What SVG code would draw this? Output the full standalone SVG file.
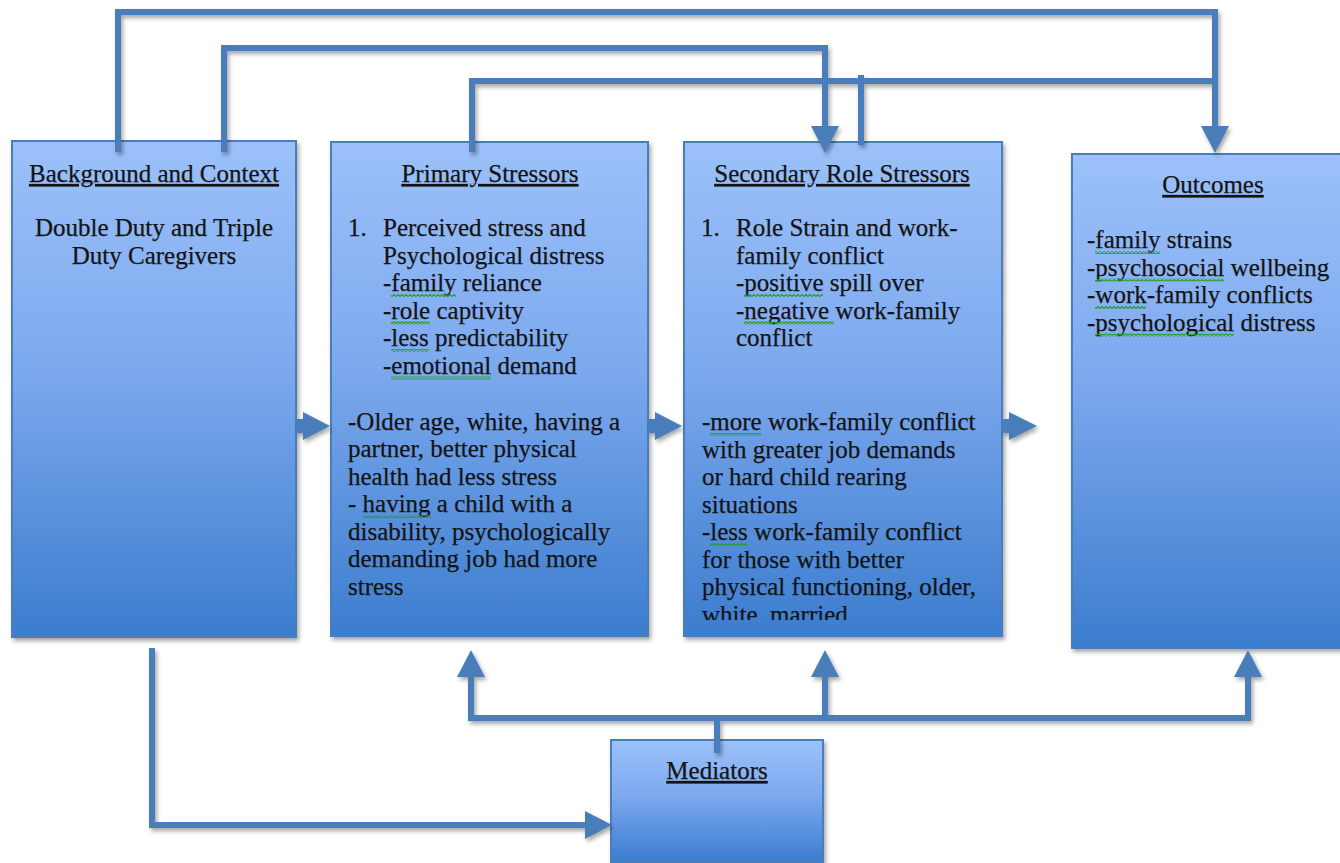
<svg xmlns="http://www.w3.org/2000/svg" width="1340" height="863" viewBox="0 0 1340 863">
<style>
.box{stroke:#4A7EBB;stroke-width:2;fill:url(#bg);filter:url(#sh)}
.t{font-family:"Liberation Serif","Times New Roman",serif;font-size:25px;fill:#141414;stroke:#141414;stroke-width:0.25}
.h{text-decoration:underline}
.c{text-anchor:middle}
.ln{fill:none;stroke:#4A7EBB;stroke-width:6;stroke-linejoin:miter;stroke-linecap:butt}
.ar{marker-end:url(#ah)}
.blk{fill:#4A7EBB}
.sq{fill:url(#wv)}
</style>
<defs>
<linearGradient id="bg" x1="0" y1="0" x2="0" y2="1">
<stop offset="0" stop-color="#9CC1FA"/>
<stop offset="0.45" stop-color="#7DA9EE"/>
<stop offset="1" stop-color="#3C7DCE"/>
</linearGradient>
<filter id="sh" x="-10%" y="-10%" width="130%" height="130%">
<feDropShadow dx="2" dy="3" stdDeviation="2" flood-color="#000" flood-opacity="0.35"/>
</filter>
<marker id="ah" viewBox="0 0 28 28" markerWidth="28" markerHeight="28" markerUnits="userSpaceOnUse" refX="1" refY="14" orient="auto">
<path d="M0 0 L27 14 L0 28 Z" fill="#4A7EBB"/>
</marker>
<pattern id="wv" width="4" height="3" patternUnits="userSpaceOnUse">
<path d="M0 2.5 L2 0.5 L4 2.5" fill="none" stroke="#22A022" stroke-width="1.2"/>
</pattern>
<clipPath id="clipSec"><rect x="684" y="141" width="318" height="479"/></clipPath>
</defs>

<g id="background">
<rect class="box" x="12" y="141" width="284" height="496"/>
<text class="t c h" x="154" y="182">Background and Context</text>
<text class="t c" x="154" y="236">Double Duty and Triple</text>
<text class="t c" x="154" y="264">Duty Caregivers</text>
</g>

<g id="primary">
<rect class="box" x="331" y="142" width="317" height="494"/>
<text class="t c h" x="490" y="182">Primary Stressors</text>
<text class="t" x="348" y="236">1.</text>
<text class="t" x="383" y="236">Perceived stress and</text>
<text class="t" x="383" y="263.5">Psychological distress</text>
<text class="t" x="383" y="291">-family reliance</text>
<text class="t" x="383" y="318.5">-role captivity</text>
<text class="t" x="383" y="346">-less predictability</text>
<text class="t" x="383" y="373.5">-emotional demand</text>
<text class="t" x="348" y="429.5">-Older age, white, having a</text>
<text class="t" x="348" y="457">partner, better physical</text>
<text class="t" x="348" y="484.5">health had less stress</text>
<text class="t" x="348" y="512">- having a child with a</text>
<text class="t" x="348" y="539.5">disability, psychologically</text>
<text class="t" x="348" y="567">demanding job had more</text>
<text class="t" x="348" y="594.5">stress</text>
<rect class="sq" x="391" y="294" width="65" height="3"/>
<rect class="sq" x="391" y="321.5" width="39" height="3"/>
<rect class="sq" x="391" y="349" width="38" height="3"/>
<rect class="sq" x="391" y="376.5" width="100" height="3"/>
<rect class="sq" x="363" y="515" width="68" height="3"/>
</g>

<g id="secondary">
<rect class="box" x="684" y="142" width="318" height="494"/>
<text class="t c h" x="842" y="182">Secondary Role Stressors</text>
<text class="t" x="701" y="236">1.</text>
<text class="t" x="736" y="236">Role Strain and work-</text>
<text class="t" x="736" y="263.5">family conflict</text>
<text class="t" x="736" y="291">-positive spill over</text>
<text class="t" x="736" y="318.5">-negative work-family</text>
<text class="t" x="736" y="346">conflict</text>
<g clip-path="url(#clipSec)">
<text class="t" x="702" y="430">-more work-family conflict</text>
<text class="t" x="702" y="457.5">with greater job demands</text>
<text class="t" x="702" y="485">or hard child rearing</text>
<text class="t" x="702" y="512.5">situations</text>
<text class="t" x="702" y="540">-less work-family conflict</text>
<text class="t" x="702" y="567.5">for those with better</text>
<text class="t" x="702" y="595">physical functioning, older,</text>
<text class="t" x="702" y="622.5">white, married</text>
</g>
<rect class="sq" x="744" y="294" width="79" height="3"/>
<rect class="sq" x="744" y="321.5" width="90" height="3"/>
<rect class="sq" x="710" y="433" width="51" height="3"/>
<rect class="sq" x="710" y="543" width="38" height="3"/>
</g>

<g id="outcomes">
<rect class="box" x="1072" y="154" width="278" height="494"/>
<text class="t c h" x="1213" y="193">Outcomes</text>
<text class="t" x="1087" y="248">-family strains</text>
<text class="t" x="1087" y="275.5">-psychosocial wellbeing</text>
<text class="t" x="1087" y="303">-work-family conflicts</text>
<text class="t" x="1087" y="330.5">-psychological distress</text>
<rect class="sq" x="1095" y="251" width="65" height="3"/>
<rect class="sq" x="1095" y="278.5" width="129" height="3"/>
<rect class="sq" x="1095" y="306" width="51" height="3"/>
<rect class="sq" x="1095" y="333.5" width="139" height="3"/>
</g>

<g id="mediators">
<rect class="box" x="611" y="740" width="212" height="122"/>
<text class="t c h" x="717" y="779">Mediators</text>
</g>

<g id="connectors" filter="url(#sh)">
<path class="ln ar" d="M118 152 V12 H1215 V127"/>
<path class="ln ar" d="M224 152 V48 H825 V127"/>
<path class="ln" d="M472 152 V81 H1215"/>
<path class="ln" d="M861 145 V75"/>
<path class="ln ar" d="M152 648 V825 H586"/>
<path class="ln" d="M717 753 V718"/>
<path class="ln" d="M471 718 H1248" style="stroke-linecap:square"/>
<path class="ln ar" d="M471 718 V676"/>
<path class="ln ar" d="M825 718 V676"/>
<path class="ln ar" d="M1248 718 V676"/>
<polygon class="blk" points="296,419 303,419 303,412 330,426 303,440 303,433 296,433"/>
<polygon class="blk" points="648,419 655,419 655,412 682,426 655,440 655,433 648,433"/>
<polygon class="blk" points="1002,419 1009,419 1009,412 1037,426 1009,440 1009,433 1002,433"/>
</g>
</svg>
